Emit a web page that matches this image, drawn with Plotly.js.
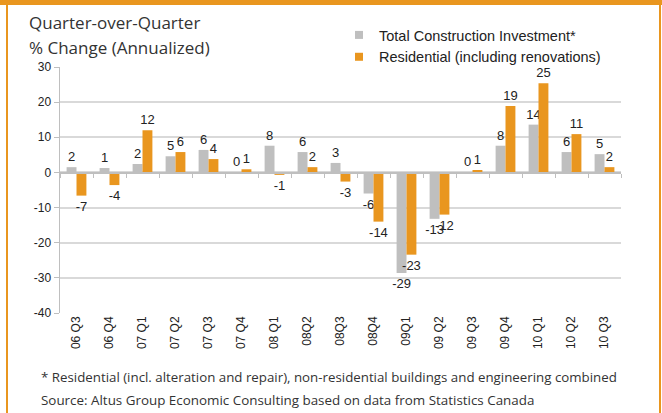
<!DOCTYPE html>
<html>
<head>
<meta charset="utf-8">
<script src="https://cdn.plot.ly/plotly-3.0.1.min.js"></script>
<style>html,body{margin:0;padding:0;background:#fff;}#chart{width:662px;height:413px;}</style>
</head>
<body>
<div id="chart"></div>
<script>
const categories = ["06 Q3","06 Q4","07 Q1","07 Q2","07 Q3","07 Q4","08 Q1","08Q2","08Q3","08Q4","09Q1","09 Q2","09 Q3","09 Q4","10 Q1","10 Q2","10 Q3"];
const totalInvestment = [1.5, 1.25, 2.4, 4.6, 6.4, 0, 7.6, 5.8, 2.7, -6.0, -28.6, -13.2, 0, 7.6, 13.6, 5.8, 5.2];
const residential = [-6.6, -3.6, 12.0, 5.8, 3.8, 0.9, -0.7, 1.5, -2.6, -14.0, -23.4, -12.0, 0.7, 18.9, 25.4, 10.9, 1.5];
const seriesNames = ["Total Construction Investment*", "Residential (including renovations)"];
const yTicks = [-40, -30, -20, -10, 0, 10, 20, 30];
const titleLines = ["Quarter-over-Quarter", "% Change (Annualized)"];

const W = 662, H = 413;
const L = 60, R = 621, T = 67, B = 313;
const px = x => (x - L) / (R - L);
const py = y => (B - y) / (B - T);

const gray = '#BFBFBF', orange = '#E9961F';
const labelFont = {family: 'Liberation Sans, Arial, sans-serif', size: 13, color: '#222'};

const traces = [
  {type: 'bar', x: categories, y: totalInvestment, name: seriesNames[0], marker: {color: gray},
   text: totalInvestment, texttemplate: '%{y:.0f}', textposition: 'outside', constraintext: 'none',
   cliponaxis: false, textfont: labelFont, showlegend: false, hoverinfo: 'x+y'},
  {type: 'bar', x: categories, y: residential, name: seriesNames[1], marker: {color: orange},
   text: residential, texttemplate: '%{y:.0f}', textposition: 'outside', constraintext: 'none',
   cliponaxis: false, textfont: labelFont, showlegend: false, hoverinfo: 'x+y'},
  {type: 'scatter', mode: 'markers', x: [null], y: [null], name: seriesNames[0],
   marker: {symbol: 'square', size: 8, color: gray}},
  {type: 'scatter', mode: 'markers', x: [null], y: [null], name: seriesNames[1],
   marker: {symbol: 'square', size: 8, color: orange}},
  {type: 'scatter', mode: 'none', x: categories, y: categories.map(() => 0), xaxis: 'x2',
   showlegend: false, hoverinfo: 'skip'}
];

const titleFont = {family: 'Open Sans, sans-serif', size: 17, color: '#333'};

const layout = {
  width: W, height: H,
  margin: {l: L, r: W - R, t: T, b: H - B, pad: 0},
  paper_bgcolor: '#fff', plot_bgcolor: '#fff',
  font: {family: 'Liberation Sans, Arial, sans-serif', size: 12, color: '#222'},
  barmode: 'group', bargap: 0.4, bargroupgap: 0,
  xaxis: {
    type: 'category', showline: false, ticks: '', showgrid: false, zeroline: false,
    tickangle: -90, tickfont: {family: 'Liberation Sans, Arial, sans-serif', size: 12, color: '#222'},
    fixedrange: true
  },
  xaxis2: {
    type: 'category', overlaying: 'x', matches: 'x', anchor: 'free', position: 40 / 70,
    showline: true, linecolor: '#BFBFBF', linewidth: 1.5, ticks: 'outside', tickson: 'boundaries',
    ticklen: 4, tickcolor: '#BFBFBF', showticklabels: false, showgrid: false, zeroline: false
  },
  yaxis: {
    range: [-40, 30], tickvals: yTicks, ticktext: yTicks.map(String),
    showgrid: true, gridcolor: '#D9D9D9', gridwidth: 2,
    zeroline: false, showline: true, linecolor: '#BFBFBF', linewidth: 1.5,
    ticks: 'outside', ticklen: 5, tickcolor: '#BFBFBF',
    tickfont: {family: 'Liberation Sans, Arial, sans-serif', size: 12, color: '#222'},
    fixedrange: true
  },
  legend: {
    x: px(339), y: py(19), xanchor: 'left', yanchor: 'top',
    font: {family: 'Liberation Sans, Arial, sans-serif', size: 14.5, color: '#222'},
    bgcolor: 'rgba(0,0,0,0)', itemwidth: 30, tracegroupgap: 0
  },
  annotations: [
    {xref: 'paper', yref: 'paper', x: px(27), y: py(22), xanchor: 'left', yanchor: 'middle', showarrow: false,
     text: titleLines[0], font: titleFont},
    {xref: 'paper', yref: 'paper', x: px(27), y: py(47), xanchor: 'left', yanchor: 'middle', showarrow: false,
     text: titleLines[1], font: titleFont},
    {xref: 'paper', yref: 'paper', x: px(39), y: py(377), xanchor: 'left', yanchor: 'middle', showarrow: false,
     text: '* Residential (incl. alteration and repair), non-residential buildings and engineering combined',
     font: {family: 'Open Sans, sans-serif', size: 13.3, color: '#333'}},
    {xref: 'paper', yref: 'paper', x: px(39), y: py(400), xanchor: 'left', yanchor: 'middle', showarrow: false,
     text: 'Source: Altus Group Economic Consulting based on data from Statistics Canada',
     font: {family: 'Open Sans, sans-serif', size: 13.4, color: '#333'}}
  ],
  shapes: [
    {type: 'rect', xref: 'paper', yref: 'paper', x0: px(0), x1: px(W), y0: py(0), y1: py(5), fillcolor: orange, line: {width: 0}, layer: 'above'},
    {type: 'rect', xref: 'paper', yref: 'paper', x0: px(6), x1: px(8), y0: py(0), y1: py(H), fillcolor: orange, line: {width: 0}, layer: 'above'},
    {type: 'rect', xref: 'paper', yref: 'paper', x0: px(659), x1: px(661), y0: py(0), y1: py(H), fillcolor: orange, line: {width: 0}, layer: 'above'}
  ],
  showlegend: true
};

Plotly.newPlot('chart', traces, layout, {displayModeBar: false, staticPlot: true});
</script>
</body>
</html>
